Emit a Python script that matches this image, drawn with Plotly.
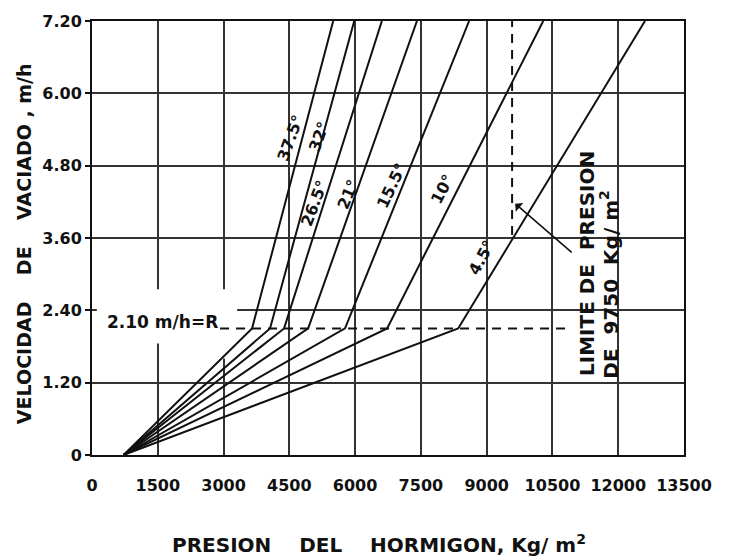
import plotly.graph_objects as go

# ---- data ----
temps = ["37.5°", "32°", "26.5°", "21°", "15.5°", "10°", "4.5°"]
rate_points = [0.0, 2.10, 7.20]                 # m/h : start, break, top
p_start = 720                                   # kg/m2 at R = 0 (common origin)
p_break = [3650, 4060, 4380, 4930, 5770, 6730, 8350]     # kg/m2 at R = 2.10
p_top = [5500, 5980, 6610, 7410, 8600, 10290, 12610]     # kg/m2 at R = 7.20

# temperature label positions (kg/m2, m/h) and angles
lbl_x = [4520, 5180, 5060, 5840, 6820, 7980, 8880]
lbl_y = [5.25, 5.28, 4.18, 4.32, 4.46, 4.41, 3.28]
lbl_ang = [-70, -70, -69, -67, -65, -63, -62]

x_ticks = [0, 1500, 3000, 4500, 6000, 7500, 9000, 10500, 12000, 13500]
x_ticktext = ["0", "1500", "3000", "4500", "6000", "7500", "9000", "10500", "12000", "13500"]
y_ticks = [0, 1.2, 2.4, 3.6, 4.8, 6.0, 7.2]
y_ticktext = ["0", "1.20", "2.40", "3.60", "4.80", "6.00", "7.20"]

R_limit = 2.10
R_line_x = [2920, 10800]          # extent of the dashed 2.10 m/h line
p_limit = 9580                    # dashed pressure-limit line position
p_limit_y = [3.65, 7.20]

FONT = "DejaVu Sans"
INK = "#111111"

fig = go.Figure()

for i, t in enumerate(temps):
    fig.add_trace(go.Scatter(
        x=[p_start, p_break[i], p_top[i]], y=rate_points,
        mode="lines", line=dict(color=INK, width=2), showlegend=False,
        hoverinfo="skip", name=t))

# dashed R line
fig.add_trace(go.Scatter(x=R_line_x, y=[R_limit, R_limit], mode="lines",
                         line=dict(color=INK, width=2, dash="9px,7px"),
                         showlegend=False, hoverinfo="skip"))
# dashed pressure limit line
fig.add_trace(go.Scatter(x=[p_limit, p_limit], y=p_limit_y, mode="lines",
                         line=dict(color=INK, width=2, dash="9px,7px"),
                         showlegend=False, hoverinfo="skip"))

# white patches behind the "2.10 m/h = R" label (cover the grid)
fig.add_shape(type="rect", xref="x", yref="y", x0=110, x1=3310, y0=1.85, y1=2.75,
              fillcolor="white", line=dict(width=0), layer="between")
fig.add_shape(type="rect", xref="x", yref="y", x0=2600, x1=3310, y0=1.6, y1=1.86,
              fillcolor="white", line=dict(width=0), layer="between")

annotations = []
for i, t in enumerate(temps):
    annotations.append(dict(x=lbl_x[i], y=lbl_y[i], xref="x", yref="y",
                            text="<b>" + t + "</b>",
                            showarrow=False, textangle=lbl_ang[i],
                            font=dict(family=FONT, size=16, color=INK)))

annotations.append(dict(x=296, y=2.21, xref="x", yref="y", xanchor="left",
                        yanchor="middle",
                        text="<b>2.10 m/h=R</b>", showarrow=False,
                        font=dict(family=FONT, size=17, color=INK)))

annotations.append(dict(x=11290, y=1.27, xref="x", yref="y", xanchor="center",
                        yanchor="bottom", text="<b>LIMITE DE \u00a0PRESION</b>",
                        showarrow=False, textangle=-90,
                        font=dict(family=FONT, size=20, color=INK)))
annotations.append(dict(x=11800, y=1.24, xref="x", yref="y", xanchor="center",
                        yanchor="bottom", text="<b>DE\u00a0 9750 \u00a0Kg/ m<sup>2</sup></b>",
                        showarrow=False, textangle=-90,
                        font=dict(family=FONT, size=20, color=INK)))
# arrow from the label to the limit line
annotations.append(dict(x=9650, y=4.17, xref="x", yref="y", ax=58, ay=50,
                        axref="pixel", ayref="pixel", text="", showarrow=True,
                        arrowhead=1, arrowsize=1.2, arrowwidth=1.6, arrowcolor=INK))

annotations.append(dict(x=-0.115, y=0.488, xref="paper", yref="paper",
                        xanchor="center", yanchor="middle",
                        text="<b>VELOCIDAD\u00a0\u00a0\u00a0 DE \u00a0\u00a0\u00a0VACIADO , m/h</b>",
                        showarrow=False, textangle=-90,
                        font=dict(family=FONT, size=19, color=INK)))
annotations.append(dict(x=0.484, y=-0.206, xref="paper", yref="paper",
                        xanchor="center", yanchor="middle",
                        text="<b>PRESION\u00a0\u00a0\u00a0 DEL\u00a0\u00a0\u00a0 HORMIGON, Kg/ m<sup>2</sup></b>",
                        showarrow=False,
                        font=dict(family=FONT, size=20, color=INK)))

fig.update_layout(
    width=740, height=557,
    margin=dict(l=92, r=56, t=13, b=102),
    paper_bgcolor="white", plot_bgcolor="white",
    annotations=annotations,
    xaxis=dict(range=[0, 13500], tickvals=x_ticks,
               ticktext=["<b>" + s + "</b>" for s in x_ticktext],
               showgrid=True, gridcolor="#333333", gridwidth=1.6,
               showline=True, linecolor=INK, linewidth=2, mirror=True,
               ticks="", ticklabelstandoff=15, zeroline=False,
               tickfont=dict(family=FONT, size=16, color=INK)),
    yaxis=dict(range=[0, 7.2], tickvals=y_ticks,
               ticktext=["<b>" + s + "</b>" for s in y_ticktext],
               showgrid=True, gridcolor="#333333", gridwidth=1.6,
               showline=True, linecolor=INK, linewidth=2, mirror=True,
               ticks="outside", ticklen=5, tickcolor=INK, tickwidth=1.5,
               zeroline=False,
               tickfont=dict(family=FONT, size=16, color=INK)),
)

fig.write_html("out.html")
